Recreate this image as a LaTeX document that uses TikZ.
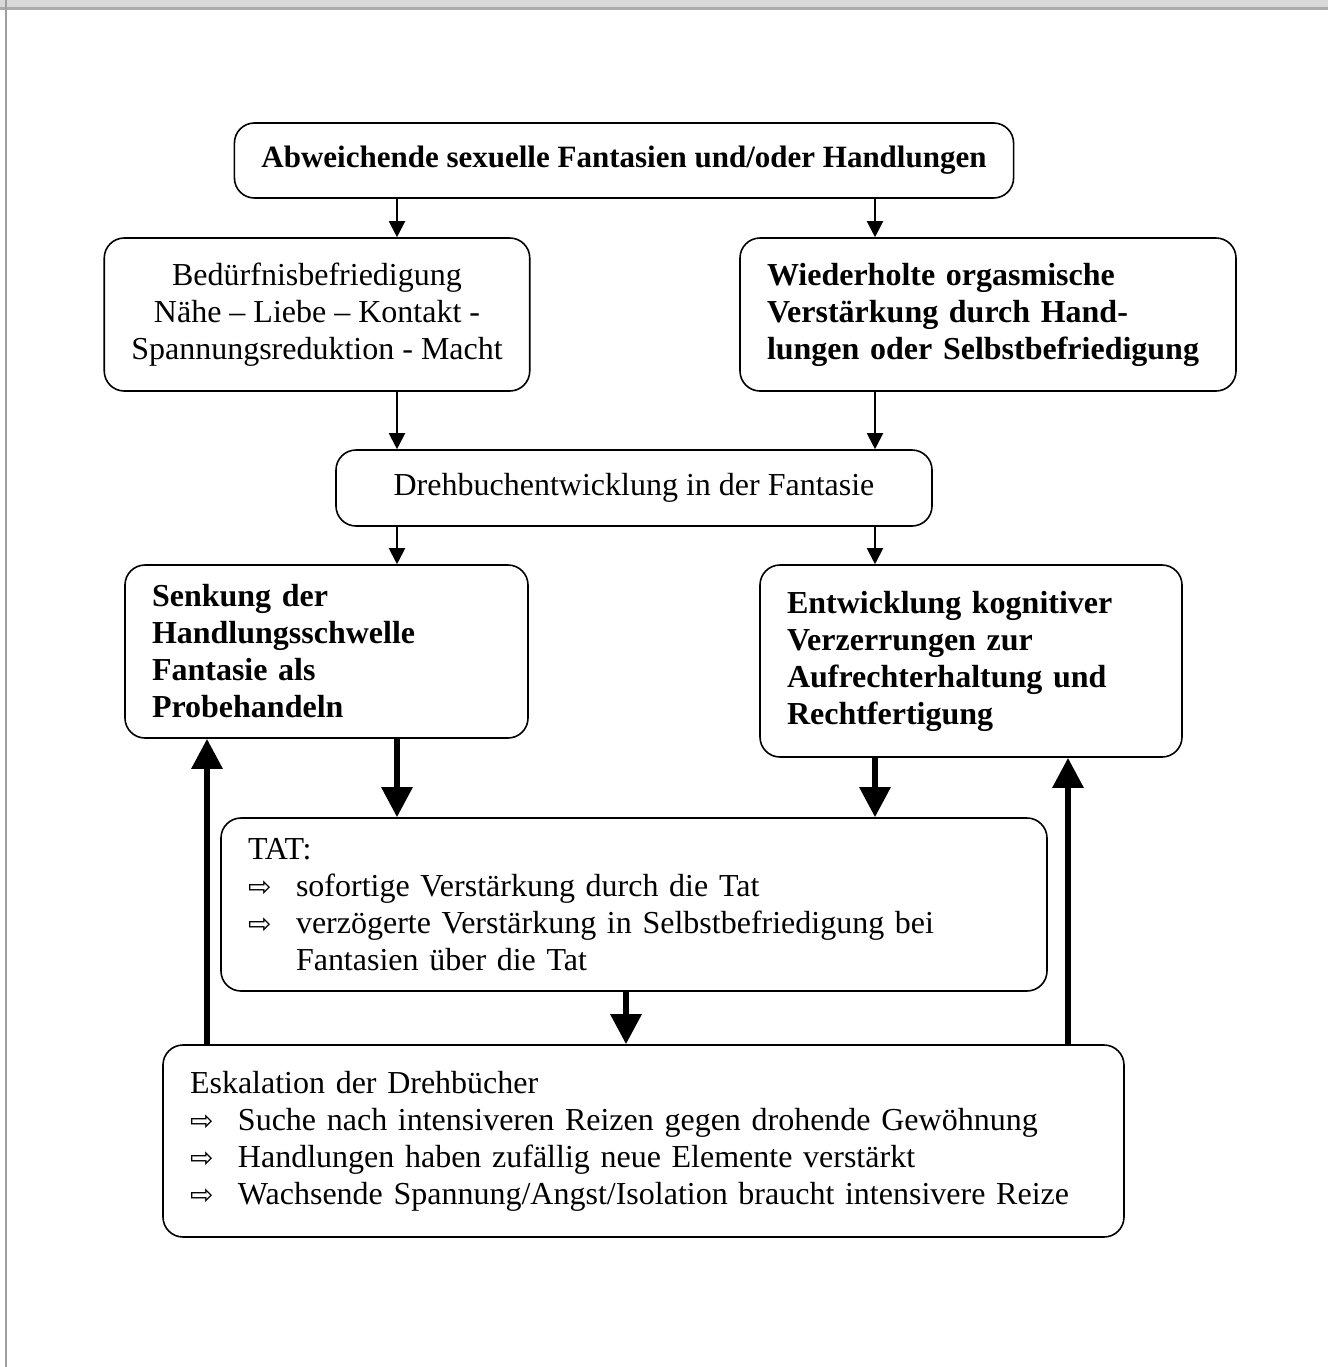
\documentclass[tikz,border=0pt]{standalone}
\usepackage{fontspec}
\setmainfont{Liberation Serif}
\newfontfamily\symfont{DejaVu Sans}
\usepackage{tikz}
\usetikzlibrary{arrows.meta}

% one item with the hollow arrow and a hanging indent
\newcommand{\pfeil}[1]{\par\noindent\makebox[24pt][l]{\symfont\fontsize{14}{14}\selectfont ⇨}%
    \parbox[t]{\dimexpr\hsize-24pt\relax}{\raggedright #1}}

\begin{document}
\begin{tikzpicture}[x=0.5pt, y=-0.5pt]
        % Setup the styles for the boxes and arrows
        \tikzset{box style/.style={draw,
                                   rounded corners=10pt,
                                   line width=0.8pt,
                                   inner xsep=13.5pt,
                                   inner ysep=0pt,
                                   font=\fontsize{16}{18.5}\selectfont},
                 bold box/.style={box style,
                                  font=\fontsize{16}{18.5}\selectfont\bfseries},
                 thin arrow/.style={draw, line width=1pt, -{Triangle[width=8pt,length=8pt]}},
                 thick arrow/.style={draw, line width=3pt, -{Triangle[width=15pt,length=15pt]}}}

        \useasboundingbox (0,0) rectangle (1328,1367);

        % Page frame
        \fill[gray!30] (0,0) rectangle (1328,8);
        \draw[gray!65, line width=1.5pt] (0,8.5) -- (1328,8.5);
        \draw[gray!75, line width=1pt] (6,0) -- (6,1367);

        % Draw the boxes
        \node[bold box, font=\fontsize{15.5}{18.5}\selectfont\bfseries, minimum width=384pt, minimum height=37.5pt] at (624, 160.5) (top)
            {Abweichende sexuelle Fantasien und/oder Handlungen};
        \node[box style, minimum width=211pt, minimum height=76.5pt, align=center] at (317, 314.5) (bed)
            {Bedürfnisbefriedigung\\Nähe – Liebe – Kontakt -\\Spannungsreduktion - Macht};
        \node[bold box, minimum width=248pt, minimum height=76.5pt, text width=221pt, align=left] at (988, 314.5) (wied)
            {Wiederholte orgasmische\\Verstärkung durch Hand-\\lungen oder Selbstbefriedigung};
        \node[box style, minimum width=298pt, minimum height=38pt] at (634, 488) (dreh)
            {Drehbuchentwicklung in der Fantasie};
        \node[bold box, minimum width=201.5pt, minimum height=86.5pt, text width=174.5pt, align=left] at (326.5, 651.5) (senk)
            {Senkung der\\Handlungsschwelle\\Fantasie als\\Probehandeln};
        \node[bold box, minimum width=211pt, minimum height=96pt, text width=184pt, align=left] at (971, 661) (entw)
            {Entwicklung kognitiver\\Verzerrungen zur\\Aufrechterhaltung und\\Rechtfertigung};
        \node[box style, minimum width=413pt, minimum height=86.5pt, text width=386pt, align=left] at (634, 904.5) (tat)
            {TAT:
             \pfeil{sofortige Verstärkung durch die Tat}
             \pfeil{verzögerte Verstärkung in Selbstbefriedigung bei\\Fantasien über die Tat}};
        \node[box style, minimum width=480.5pt, minimum height=96pt, text width=453.5pt, align=left] at (643.5, 1141) (eska)
            {Eskalation der Drehbücher
             \pfeil{Suche nach intensiveren Reizen gegen drohende Gewöhnung}
             \pfeil{Handlungen haben zufällig neue Elemente verstärkt}
             \pfeil{Wachsende Spannung/Angst/Isolation braucht intensivere Reize}};

        % Columns of the arrows
        \coordinate (colL) at (397, 0);
        \coordinate (colR) at (875, 0);
        \coordinate (colM) at (626, 0);
        \coordinate (colLL) at (207, 0);
        \coordinate (colRR) at (1068, 0);

        % Connect the boxes with arrows
        \path
            (top.south -| colL)   edge[thin arrow]  (bed.north -| colL)
            (top.south -| colR)   edge[thin arrow]  (wied.north -| colR)
            (bed.south -| colL)   edge[thin arrow]  (dreh.north -| colL)
            (wied.south -| colR)  edge[thin arrow]  (dreh.north -| colR)
            (dreh.south -| colL)  edge[thin arrow]  (senk.north -| colL)
            (dreh.south -| colR)  edge[thin arrow]  (entw.north -| colR)
            (senk.south -| colL)  edge[thick arrow] (tat.north -| colL)
            (entw.south -| colR)  edge[thick arrow] (tat.north -| colR)
            (tat.south -| colM)   edge[thick arrow] (eska.north -| colM)
            (eska.north -| colLL) edge[thick arrow] (senk.south -| colLL)
            (eska.north -| colRR) edge[thick arrow] (entw.south -| colRR);
\end{tikzpicture}
\end{document}
